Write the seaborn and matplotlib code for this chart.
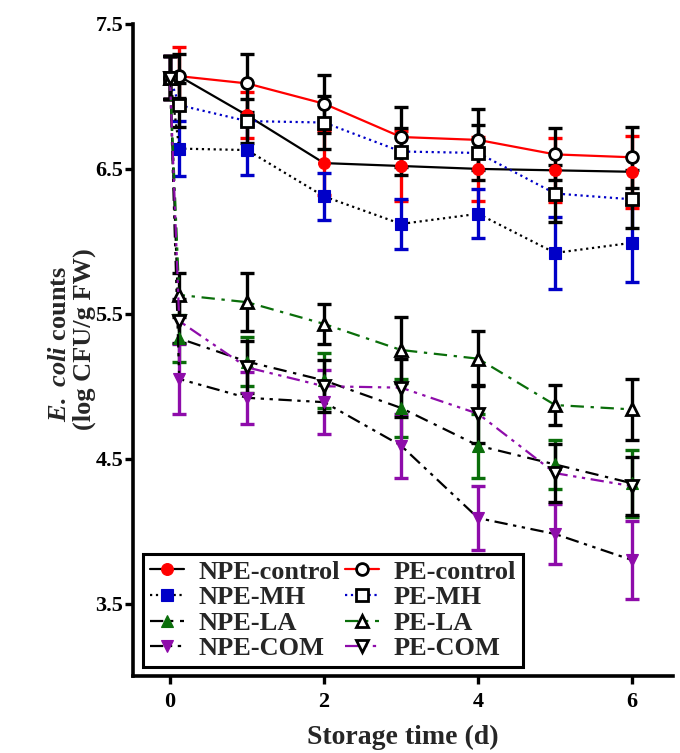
import numpy as np
import pandas as pd
import matplotlib
matplotlib.use("Agg")
import matplotlib.pyplot as plt
import seaborn as sns

# Storage days (first two points: day 0 before and just after treatment)
days = [0, 0.12, 1, 2, 3, 4, 5, 6]

# Mean E. coli counts (log CFU/g FW) and standard deviations
npe_control = [7.13, 7.14, 6.87, 6.54, 6.52, 6.50, 6.49, 6.48]
npe_control_sd = [0.15, 0.20, 0.16, 0.22, 0.24, 0.22, 0.22, 0.25]
pe_control = [7.13, 7.14, 7.09, 6.95, 6.72, 6.70, 6.60, 6.58]
pe_control_sd = [0.15, 0.15, 0.20, 0.20, 0.21, 0.21, 0.18, 0.21]

npe_mh = [7.13, 6.64, 6.63, 6.31, 6.12, 6.19, 5.92, 5.99]
npe_mh_sd = [0.15, 0.19, 0.17, 0.16, 0.17, 0.17, 0.25, 0.27]
pe_mh = [7.13, 6.94, 6.83, 6.82, 6.62, 6.61, 6.33, 6.29]
pe_mh_sd = [0.15, 0.15, 0.15, 0.18, 0.16, 0.19, 0.20, 0.20]

npe_la = [7.13, 5.33, 5.17, 5.04, 4.85, 4.59, 4.46, 4.33]
npe_la_sd = [0.15, 0.16, 0.17, 0.19, 0.20, 0.22, 0.17, 0.23]
pe_la = [7.13, 5.63, 5.58, 5.43, 5.25, 5.19, 4.87, 4.84]
pe_la_sd = [0.15, 0.15, 0.20, 0.14, 0.23, 0.19, 0.14, 0.21]

npe_com = [7.13, 5.05, 4.92, 4.89, 4.59, 4.09, 3.98, 3.80]
npe_com_sd = [0.15, 0.24, 0.18, 0.22, 0.22, 0.22, 0.21, 0.27]
pe_com = [7.13, 5.45, 5.13, 5.00, 4.99, 4.81, 4.40, 4.31]
pe_com_sd = [0.15, 0.15, 0.18, 0.18, 0.20, 0.20, 0.20, 0.20]

x_ticks = [0, 2, 4, 6]
y_ticks = [3.5, 4.5, 5.5, 6.5, 7.5]

RED = "#FF0000"
BLUE = "#0000C8"
GREEN = "#0A6E0A"
PURPLE = "#8E0CAA"
BLACK = "#000000"

DASHDOT = (0, (6, 3, 1.5, 3))
DASHDOTDOT = (0, (6, 2.5, 1.5, 2.5, 1.5, 2.5))

# label, means, sds, line colour, line style, marker, marker face, marker/errbar colour
series = [
    ("NPE-control", npe_control, npe_control_sd, BLACK, "-", "o", RED, RED),
    ("NPE-MH", npe_mh, npe_mh_sd, BLACK, ":", "s", BLUE, BLUE),
    ("NPE-LA", npe_la, npe_la_sd, BLACK, DASHDOT, "^", GREEN, GREEN),
    ("NPE-COM", npe_com, npe_com_sd, BLACK, DASHDOTDOT, "v", PURPLE, PURPLE),
    ("PE-control", pe_control, pe_control_sd, RED, "-", "o", "white", BLACK),
    ("PE-MH", pe_mh, pe_mh_sd, BLUE, ":", "s", "white", BLACK),
    ("PE-LA", pe_la, pe_la_sd, GREEN, DASHDOT, "^", "white", BLACK),
    ("PE-COM", pe_com, pe_com_sd, PURPLE, DASHDOTDOT, "v", "white", BLACK),
]

sns.set_theme(style="ticks")
plt.rcParams["font.family"] = ["Liberation Serif", "DejaVu Serif"]
plt.rcParams["font.weight"] = "bold"
plt.rcParams["mathtext.fontset"] = "custom"
plt.rcParams["mathtext.it"] = "Liberation Serif:italic:bold"
plt.rcParams["mathtext.rm"] = "Liberation Serif:bold"

fig = plt.figure(figsize=(6.8, 7.53), dpi=100)
W, H = 680, 753
ax = fig.add_axes([133 / W, 1 - 676 / H, 540 / W, 652 / H])

for label, mean, sd, lcol, ls, mk, mface, mcol in series:
    df = pd.DataFrame({"day": days, "count": mean})
    ax.errorbar(days, mean, yerr=sd, fmt="none", ecolor=mcol,
                elinewidth=2.4, capsize=4.8, capthick=2.4, zorder=2)
    sns.lineplot(data=df, x="day", y="count", ax=ax, color=lcol,
                 linestyle=ls, linewidth=1.6, marker=mk, markersize=8.5,
                 markerfacecolor=mface, markeredgecolor=mcol,
                 markeredgewidth=2.0 if mface == "white" else 0.8,
                 errorbar=None, label=label, zorder=3)

ax.set_xlim(-0.48, 6.53)
ax.set_ylim(3.0, 7.5)
ax.set_xticks(x_ticks)
ax.set_yticks(y_ticks)
ax.set_xticklabels([str(t) for t in x_ticks])
ax.set_yticklabels([f"{t:.1f}" for t in y_ticks])
sns.despine(ax=ax)
for side in ("left", "bottom"):
    ax.spines[side].set_linewidth(2.6)
    ax.spines[side].set_color("black")
ax.tick_params(axis="both", direction="out", length=5.5, width=2.4,
               colors="black", labelsize=16)
ax.tick_params(axis="x", pad=6)
ax.tick_params(axis="y", pad=1.5)
for lab in ax.get_xticklabels() + ax.get_yticklabels():
    lab.set_fontweight("bold")
ax.set_xlabel("")
ax.set_ylabel("")
ax.grid(False)

fig.text(403 / W, 1 - 744 / H, "Storage time (d)", ha="center",
         va="baseline", fontsize=20, fontweight="bold")
fig.text(60 / W, 1 - 344 / H, r"$\mathit{E.\ coli}$ counts", rotation=90,
         ha="center", va="center", fontsize=19, fontweight="bold")
fig.text(84 / W, 1 - 339 / H, "(log CFU/g FW)", rotation=90,
         ha="center", va="center", fontsize=19, fontweight="bold")

h, l = ax.get_legend_handles_labels()
leg = ax.legend(h, l, ncol=2, loc="lower left",
                bbox_to_anchor=(0.0185, 0.0138),
                handlelength=1.3, handletextpad=0.55, columnspacing=0.2,
                labelspacing=0.08, borderpad=0.25, borderaxespad=0,
                fancybox=False, framealpha=1, edgecolor="black",
                prop={"weight": "bold", "size": 19})
leg.get_frame().set_linewidth(2.2)

fig.savefig("out.png", dpi=100)
